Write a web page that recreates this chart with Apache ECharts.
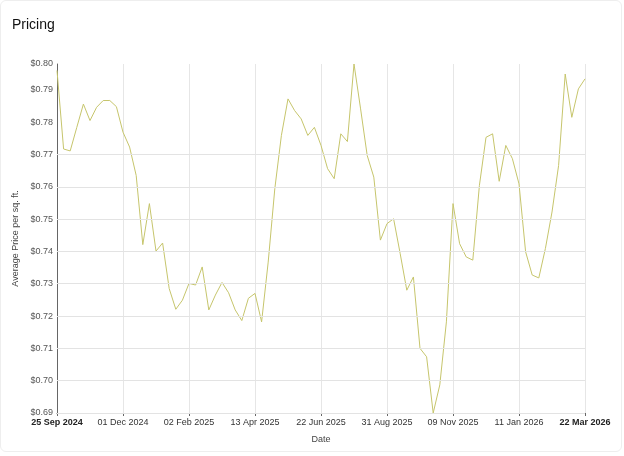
<!DOCTYPE html>
<html lang="en">
<head>
    <meta charset="UTF-8" />
    <title>Pricing</title>
    <script src="https://cdn.jsdelivr.net/npm/echarts@6.0.0/dist/echarts.min.js"></script>
    <style>
        body { margin: 0; background: #fff; font-family: Roboto, "Noto Sans", sans-serif; }
        #card { position: absolute; left: 0; top: 0; width: 620px; height: 450px; border: 1px solid #eee; border-radius: 6px; }
        #main { width: 624px; height: 456px; }
    </style>
</head>
<body>
    <div id="card"></div>
    <div id="main"></div>
    <script type="text/javascript">
        // Tick label dates (every 10th weekly point)
        const tickLabels = ["25 Sep 2024", "01 Dec 2024", "02 Feb 2025", "13 Apr 2025", "22 Jun 2025",
            "31 Aug 2025", "09 Nov 2025", "11 Jan 2026", "22 Mar 2026"];

        // Average price per sq. ft., one value per point
        const prices = [
            0.796, 0.7717, 0.7711, 0.7784, 0.7856, 0.7805, 0.7846, 0.7867, 0.7867, 0.7848,
            0.7769, 0.7723, 0.7635, 0.7421, 0.7548, 0.7401, 0.7426, 0.7285, 0.7221, 0.7249,
            0.7301, 0.7296, 0.7352, 0.7219, 0.7265, 0.7304, 0.7272, 0.7219, 0.7186, 0.7255,
            0.7270, 0.7182, 0.7367, 0.7594, 0.7759, 0.7872, 0.7836, 0.7810, 0.7759, 0.7784,
            0.7728, 0.7656, 0.7625, 0.7764, 0.7740, 0.7980, 0.7841, 0.7697, 0.7630, 0.7435,
            0.7486, 0.7501, 0.7393, 0.7280, 0.7321, 0.7100, 0.7074, 0.6900, 0.6987, 0.7182,
            0.7548, 0.7424, 0.7383, 0.7373, 0.7604, 0.7753, 0.7764, 0.7617, 0.7728, 0.7687,
            0.7609, 0.7399, 0.7327, 0.7318, 0.7409, 0.7522, 0.7666, 0.7949, 0.7815, 0.7903,
            0.7934
        ];

        const gridValues = [0.69, 0.70, 0.71, 0.72, 0.73, 0.74, 0.75, 0.76, 0.77];

        // Build category list: tick labels at every 10th point, fillers in between
        let categories = [];
        tickLabels.forEach((lab, k) => {
            categories.push(lab);
            if (k < tickLabels.length - 1) {
                for (let j = 1; j < 10; j++) categories.push(lab + " +" + j);
            }
        });

        let myChart = echarts.init(document.getElementById("main"));

        let options = {
            animation: false,
            title: {
                text: "Pricing", left: 7, top: 13,
                textStyle: { fontSize: 14, fontWeight: 500, color: "#111" }
            },
            grid: { left: 57, right: 39, top: 64, bottom: 43 },
            xAxis: {
                type: "category",
                data: categories,
                boundaryGap: false,
                name: "Date",
                nameLocation: "middle",
                nameGap: 22,
                nameTextStyle: { fontSize: 9, color: "#444" },
                axisLine: { lineStyle: { color: "#666" } },
                axisTick: { interval: 9, length: 3, lineStyle: { color: "#666" } },
                axisLabel: {
                    interval: 9, fontSize: 9, color: "#333", margin: 5,
                    formatter: function (v, i) {
                        const lab = v.split(" +")[0];
                        if (i === 0 || i === categories.length - 1) return "{b|" + lab + "}";
                        return lab;
                    },
                    rich: { b: { fontWeight: "bold", fontSize: 9, color: "#222" } }
                },
                splitLine: { show: true, interval: 9, lineStyle: { color: "#e6e6e6" } }
            },
            yAxis: {
                type: "value",
                min: 0.69,
                max: 0.798,
                interval: 0.01,
                name: "Average Price per sq. ft.",
                nameLocation: "middle",
                nameGap: 29,
                nameTextStyle: { fontSize: 9, color: "#444" },
                axisLine: { show: true, lineStyle: { color: "#666" } },
                axisTick: { show: false },
                axisLabel: {
                    fontSize: 9, color: "#555", margin: 4,
                    showMaxLabel: true,
                    formatter: v => "$" + v.toFixed(2)
                },
                splitLine: { show: false }
            },
            series: [{
                type: "line",
                data: prices,
                symbol: "none",
                lineStyle: { color: "#c6c56c", width: 1 },
                markLine: {
                    silent: true,
                    symbol: "none",
                    label: { show: false },
                    lineStyle: { color: "#e3e3e3", type: "solid", width: 1 },
                    data: gridValues.map(v => ({ yAxis: v }))
                },
                z: 3
            }]
        };

        myChart.setOption(options);
    </script>
</body>
</html>
